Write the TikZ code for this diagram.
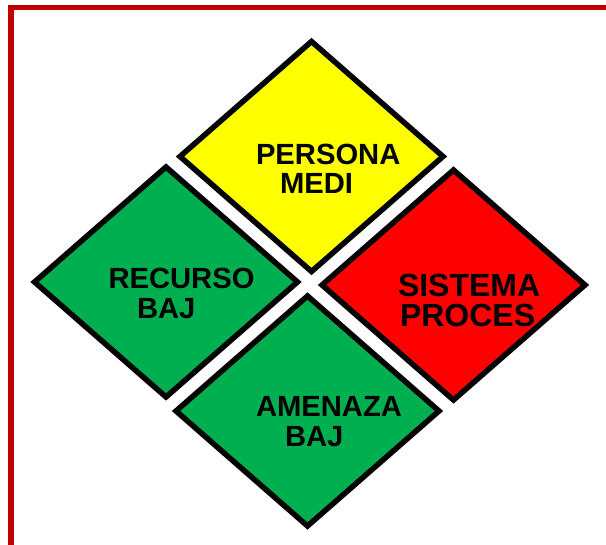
\documentclass[tikz,border=0pt]{standalone}
\usepackage{fontspec}
\setmainfont{Liberation Sans}
\usetikzlibrary{shapes.geometric}
\definecolor{frameRed}{RGB}{192,0,0}
\definecolor{dYellow}{RGB}{255,255,0}
\definecolor{dGreen}{RGB}{0,176,80}
\definecolor{dRed}{RGB}{255,0,0}
\tikzset{
  dia/.style={diamond, draw=black, line width=5.5pt, line join=miter, inner sep=0pt, outer sep=0pt,
    minimum width=263pt, minimum height=230pt},
  lbl/.style={anchor=base west, inner sep=0pt, outer sep=0pt, font=\bfseries\fontsize{29.2}{30}\selectfont},
  lblbig/.style={anchor=base west, inner sep=0pt, outer sep=0pt, font=\bfseries\fontsize{32}{33}\selectfont}
}
\begin{document}
\begin{tikzpicture}[x=1pt,y=-1pt]
\useasboundingbox (0,0) rectangle (606,545);
% frame
\draw[frameRed, line width=5.5pt] (11,560) -- (11,7.5) -- (620,7.5);
% diamonds
\node[dia, fill=dYellow] (persona) at (311.5,156.5) {};
\node[dia, fill=dRed] (sistema) at (453.5,285) {};
\node[dia, fill=dGreen] (recurso) at (166,282) {};
\node[dia, fill=dGreen] (amenaza) at (307.5,411) {};
% labels
\node[lbl] (t1a) at (256,165) {PERSONA};
\node[lbl] (t1b) at (280,194) {MEDI};
\node[lblbig] (t2a) at (398,297) {SISTEMA};
\node[lblbig] (t2b) at (400,327) {PROCES};
\node[lbl] (t3a) at (108.5,289) {RECURSO};
\node[lbl] (t3b) at (137,319) {BAJ};
\node[lbl] (t4a) at (256,417) {AMENAZA};
\node[lbl] (t4b) at (285,447) {BAJ};
\end{tikzpicture}
\end{document}
